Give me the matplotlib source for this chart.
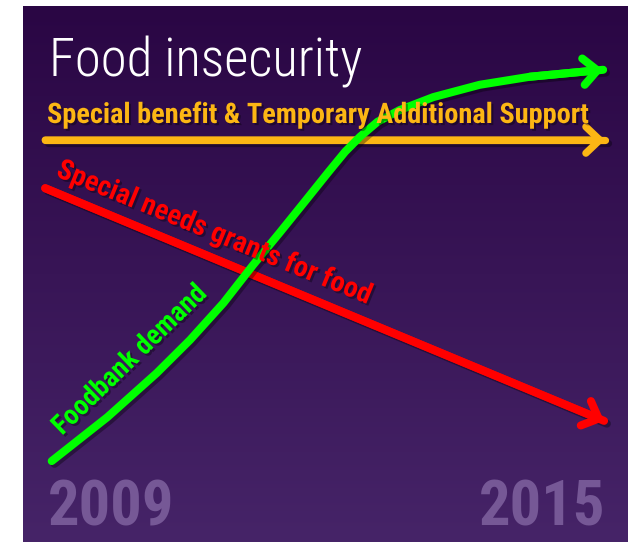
import numpy as np
import matplotlib
matplotlib.use("Agg")
import matplotlib.pyplot as plt
import matplotlib.patheffects as pe
from matplotlib import font_manager as fm

# data (years on x, arbitrary index on y)
green_x = [2009.04, 2009.64, 2010.17, 2010.53, 2010.89, 2011.21, 2011.50, 2011.77,
           2012.02, 2012.20, 2012.36, 2012.55, 2012.79, 2013.15, 2013.65, 2014.19, 2014.98]
green_y = [15.1, 23.3, 31.5, 37.7, 44.6, 51.7, 57.8, 63.6,
           69.0, 72.8, 75.6, 78.4, 80.6, 83.0, 85.3, 86.8, 88.1]
orange_x = [2008.97, 2015.0]
orange_y = [75.0, 75.0]
red_x = [2008.97, 2014.99]
red_y = [66.0, 22.6]

title = "Food insecurity"
orange_label = "Special benefit & Temporary Additional Support"
red_label = "Special needs grants for food"
green_label = "Foodbank demand"
year_labels = ["2009", "2015"]

W, H = 628, 542
names = {f.name for f in fm.fontManager.ttflist}
cond = None
for n in ["Roboto Condensed", "Liberation Sans Narrow", "Open Sans Condensed", "DejaVu Sans"]:
    if n in names:
        cond = n
        break
FAM = [cond, "DejaVu Sans"]

fig = plt.figure(figsize=(W / 100, H / 100), dpi=100)
fig.patch.set_facecolor("white")


def fx(px):
    return px / W


def fy(py):
    return 1 - py / H


# panel with vertical gradient
ax = fig.add_axes([fx(23), 0, fx(628) - fx(23), fy(6)])
top = np.array([42, 6, 68]) / 255
bot = np.array([70, 36, 104]) / 255
t = np.linspace(0, 1, 256)[:, None]
grad = top + (bot - top) * t
ax.imshow(grad[:, None, :], aspect="auto", extent=[0, 1, 0, 1], transform=ax.transAxes, zorder=0)

# data limits: 2009 -> px 48, 2015 -> px 605 ; y 0 at bottom, 100 at top (px 6)
ppy = (605 - 48) / 6
ax.set_xlim(2009 - (48 - 23) / ppy, 2015 + (628 - 605) / ppy)
ax.set_ylim(0, 100)
ax.axis("off")

shadow = [pe.SimpleLineShadow(offset=(2, -2), shadow_color="black", alpha=0.35), pe.Normal()]
tshadow = [pe.withSimplePatchShadow(offset=(1.5, -1.5), shadow_rgbFace="black", alpha=0.35)]


def arrow_line(x, y, color, lw):
    ax.plot(x, y, color=color, lw=lw, solid_capstyle="round", solid_joinstyle="round",
            path_effects=shadow, zorder=3)
    ax.annotate("", xy=(x[-1], y[-1]), xytext=(x[-2], y[-2]),
                arrowprops=dict(arrowstyle="->,head_length=1.0,head_width=0.95", color=color, lw=lw,
                                shrinkA=0, shrinkB=0, mutation_scale=10,
                                capstyle="round", joinstyle="round"),
                zorder=3)


arrow_line(orange_x, orange_y, "#FCB614", 5.2)
arrow_line(red_x, red_y, "#FF0000", 5.8)
arrow_line(green_x, green_y, "#00FF00", 5.8)

fig.text(fx(49), fy(76), title, color="white", fontsize=38, fontweight="light", family=FAM,
         va="baseline", ha="left")
fig.text(fx(47), fy(123), orange_label, color="#FCB614", fontsize=20.4, fontweight="bold",
         family=FAM, va="baseline", ha="left", path_effects=tshadow)
fig.text(fx(55), fy(176), red_label, color="#FF0000", fontsize=20.6, fontweight="bold",
         family=FAM, va="baseline", ha="left", rotation=-22.3, rotation_mode="anchor",
         path_effects=tshadow)
fig.text(fx(62), fy(436), green_label, color="#00FF00", fontsize=20, fontweight="bold",
         family=FAM, va="baseline", ha="left", rotation=44, rotation_mode="anchor",
         path_effects=tshadow)
fig.text(fx(48), fy(525), year_labels[0], color="#765896", fontsize=45, fontweight="bold",
         family=FAM, va="baseline", ha="left")
fig.text(fx(605), fy(525), year_labels[1], color="#765896", fontsize=45, fontweight="bold",
         family=FAM, va="baseline", ha="right")

fig.savefig("out.png", dpi=100, facecolor="white")
